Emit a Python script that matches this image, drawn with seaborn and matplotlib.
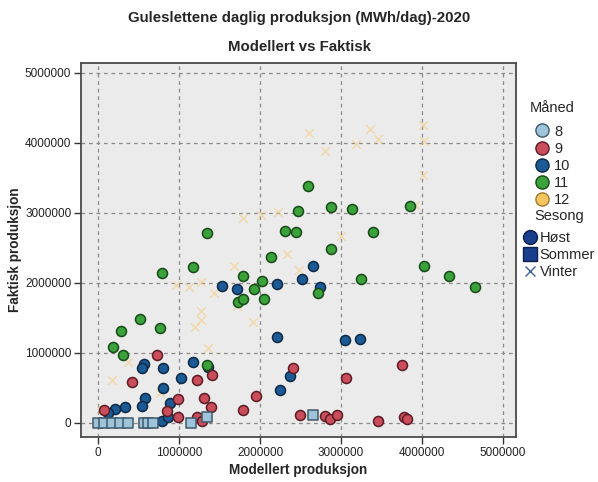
import matplotlib
matplotlib.use("Agg")
import matplotlib.pyplot as plt
from matplotlib.lines import Line2D
from matplotlib.ticker import FuncFormatter, MultipleLocator
import numpy as np
import pandas as pd
import seaborn as sns

# Daily production, million MWh units scaled below (modelled x, actual y)
aug_x = [0.00, 0.07, 0.17, 0.27, 0.37, 0.57, 0.62, 0.68, 1.15, 1.35, 2.65]
aug_y = [0.00, 0.00, 0.00, 0.00, 0.00, 0.00, 0.00, 0.00, 0.00, 0.09, 0.11]

sep_x = [0.73, 0.42, 1.22, 1.41, 0.99, 1.31, 1.40, 0.85, 0.99, 1.22, 1.28, 1.95,
         1.79, 2.41, 2.49, 3.75, 3.06, 2.80, 2.86, 2.95, 3.46, 3.78, 3.81, 0.07]
sep_y = [0.97, 0.59, 0.61, 0.69, 0.34, 0.36, 0.23, 0.17, 0.09, 0.09, 0.03, 0.39,
         0.19, 0.79, 0.11, 0.83, 0.64, 0.10, 0.06, 0.11, 0.03, 0.09, 0.06, 0.19]

oct_x = [1.53, 1.72, 2.21, 2.65, 2.52, 2.74, 3.05, 3.23, 2.21, 1.17, 0.57, 0.54,
         0.80, 1.02, 1.36, 0.80, 0.58, 0.54, 0.89, 0.33, 0.21, 2.25, 2.37, 0.79,
         0.86, 0.12]
oct_y = [1.96, 1.91, 1.99, 2.24, 2.06, 1.94, 1.19, 1.20, 1.23, 0.87, 0.84, 0.79,
         0.79, 0.64, 0.80, 0.50, 0.36, 0.24, 0.29, 0.23, 0.20, 0.47, 0.67, 0.03,
         0.09, 0.14]

nov_x = [2.59, 2.47, 2.88, 3.14, 2.31, 2.44, 3.40, 2.88, 2.14, 1.79, 2.02, 3.25,
         3.85, 4.02, 4.33, 4.65, 1.35, 0.79, 1.17, 1.93, 1.73, 1.79, 2.05, 2.72,
         0.52, 0.28, 0.77, 0.19, 0.31, 1.35]
nov_y = [3.39, 3.03, 3.09, 3.06, 2.74, 2.73, 2.73, 2.49, 2.37, 2.10, 2.03, 2.06,
         3.10, 2.24, 2.10, 1.94, 2.71, 2.14, 2.23, 1.91, 1.73, 1.77, 1.77, 1.86,
         1.49, 1.31, 1.36, 1.09, 0.97, 0.83]

dec_x = [3.36, 3.46, 3.19, 4.01, 4.02, 4.01, 3.91, 3.00, 2.60, 2.80, 1.79, 2.01,
         2.22, 2.33, 1.36, 1.68, 2.48, 0.96, 1.12, 1.27, 1.43, 1.27, 1.27, 1.20,
         1.72, 1.91, 1.36, 0.37, 0.17, 0.77, 0.05]
dec_y = [4.20, 4.06, 3.99, 4.26, 4.03, 3.54, 3.11, 2.67, 4.14, 3.89, 2.93, 2.97,
         3.01, 2.41, 2.71, 2.24, 2.19, 1.97, 1.94, 2.01, 1.86, 1.60, 1.47, 1.37,
         1.67, 1.44, 1.07, 0.87, 0.61, 0.43, 0.20]

months = [8, 9, 10, 11, 12]
seasons = {8: "Sommer", 9: "Høst", 10: "Høst", 11: "Høst", 12: "Vinter"}
fill = {8: "#9ec4dc", 9: "#c94d5b", 10: "#1b5a95", 11: "#3ba23b", 12: "#f7c462"}
edge = {8: "#3f5868", 9: "#5c1c24", 10: "#0c2946", 11: "#174a17", 12: "#a07a30"}

frames = []
for m, xs, ys in zip(months, [aug_x, sep_x, oct_x, nov_x, dec_x],
                     [aug_y, sep_y, oct_y, nov_y, dec_y]):
    frames.append(pd.DataFrame({
        "Modellert produksjon": np.array(xs) * 1e6,
        "Faktisk produksjon": np.array(ys) * 1e6,
        "Måned": m,
        "Sesong": seasons[m],
    }))
df = pd.concat(frames, ignore_index=True)

sns.set_style("ticks")
plt.rcParams["font.family"] = ["Liberation Sans", "DejaVu Sans"]

fig = plt.figure(figsize=(5.98, 4.82), dpi=100)
ax = fig.add_axes([0.1355, 0.0934, 0.7275, 0.7756])
ax.set_facecolor("#ebebeb")

xcol, ycol = "Modellert produksjon", "Faktisk produksjon"

# Winter crosses sit underneath the filled markers
win = df[df["Sesong"] == "Vinter"]
sns.scatterplot(data=win, x=xcol, y=ycol, marker="x", color=fill[12],
                s=38, linewidth=1.1, alpha=0.45, legend=False, ax=ax, zorder=2)

for m in [10, 9, 11]:
    sub = df[df["Måned"] == m]
    sns.scatterplot(data=sub, x=xcol, y=ycol, marker="o", color=fill[m],
                    edgecolor=edge[m], s=52, linewidth=1.1, legend=False,
                    ax=ax, zorder=3)

summer = df[df["Sesong"] == "Sommer"]
sns.scatterplot(data=summer, x=xcol, y=ycol, marker="s", color=fill[8],
                edgecolor=edge[8], s=50, linewidth=1.1, legend=False,
                ax=ax, zorder=3)

ax.set_xlim(-0.21e6, 5.16e6)
ax.set_ylim(-0.2e6, 5.14e6)
ax.xaxis.set_major_locator(MultipleLocator(1e6))
ax.yaxis.set_major_locator(MultipleLocator(1e6))
fmt = FuncFormatter(lambda v, p: f"{int(round(v))}")
ax.xaxis.set_major_formatter(fmt)
ax.yaxis.set_major_formatter(fmt)
ax.grid(True, color="#8a8a8a", linestyle=(0, (3, 3)), linewidth=0.9, zorder=0)
ax.set_axisbelow(True)
for sp in ax.spines.values():
    sp.set_color("#4a4a4a")
    sp.set_linewidth(1.3)
ax.tick_params(axis="both", direction="out", length=5, width=1,
               color="#333333", labelsize=8.5, labelcolor="#222222", pad=2)

ax.set_xlabel(xcol, fontsize=9.8, fontweight="bold", labelpad=3)
ax.set_ylabel(ycol, fontsize=9.8, fontweight="bold", labelpad=2)

fig.text(0.5, 0.962, "Guleslettene daglig produksjon (MWh/dag)-2020",
         ha="center", va="center", fontsize=10.8, fontweight="bold")
fig.text(0.5, 0.903, "Modellert vs Faktisk",
         ha="center", va="center", fontsize=10.8, fontweight="bold")

# Month legend
month_handles = [Line2D([0], [0], marker="o", linestyle="none", markersize=9.5,
                        markerfacecolor=fill[m], markeredgecolor=edge[m],
                        markeredgewidth=1.0, label=str(m)) for m in months]
leg1 = fig.legend(handles=month_handles, title="Måned", loc="upper left",
                  bbox_to_anchor=(0.876, 0.803), frameon=False, fontsize=10.5,
                  title_fontsize=10.5, handletextpad=0.2, labelspacing=0.22,
                  borderaxespad=0, handlelength=1.2)
leg1._legend_box.align = "center"
leg1._legend_box.sep = 7

# Season legend
navy = "#1a3f8c"
season_handles = [
    Line2D([0], [0], marker="o", linestyle="none", markersize=10,
           markerfacecolor=navy, markeredgecolor="#0c1f4a", label="Høst"),
    Line2D([0], [0], marker="s", linestyle="none", markersize=10,
           markerfacecolor=navy, markeredgecolor="#0c1f4a", label="Sommer"),
    Line2D([0], [0], marker="x", linestyle="none", markersize=7,
           markeredgecolor="#3d5f9e", markeredgewidth=1.0, label="Vinter"),
]
leg2 = fig.legend(handles=season_handles, title="Sesong", loc="upper left",
                  bbox_to_anchor=(0.866, 0.579), frameon=False, fontsize=10.5,
                  title_fontsize=10.5, handletextpad=0.2, labelspacing=0.2,
                  borderaxespad=0, handlelength=0.9)
leg2._legend_box.align = "center"
leg2._legend_box.sep = 6

fig.savefig("out.png", dpi=100, facecolor="white")
